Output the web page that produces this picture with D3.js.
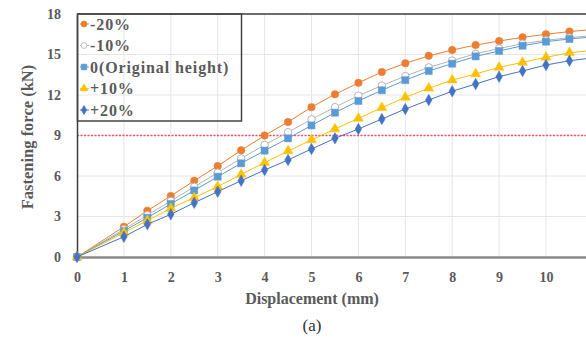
<!DOCTYPE html>
<html>
<head>
<meta charset="utf-8">
<script src="https://cdn.jsdelivr.net/npm/d3@7"></script>
<style>
  body { margin: 0; background: #fff; }
  svg { display: block; font-family: "Liberation Serif", "Times New Roman", serif; }
</style>
</head>
<body>
<svg class="chart" width="586" height="348"></svg>
<script>
// Displacement (mm) at which every series was sampled
var displacement = [0, 1, 1.5, 2, 2.5, 3, 3.5, 4, 4.5, 5, 5.5, 6, 6.5, 7, 7.5, 8, 8.5, 9, 9.5, 10, 10.5, 11];

// Fastening force (kN) for each height change
var minus20 = [0, 2.24, 3.43, 4.52, 5.65, 6.74, 7.9, 9.0, 10.0, 11.1, 12.05, 12.9, 13.7, 14.35, 14.9, 15.33, 15.7, 16.0, 16.27, 16.5, 16.7, 16.85];
var minus10 = [0, 2.05, 3.1, 4.15, 5.2, 6.25, 7.3, 8.3, 9.25, 10.2, 11.1, 11.95, 12.7, 13.4, 14.05, 14.55, 15.05, 15.45, 15.8, 16.05, 16.25, 16.4];
var original = [0, 1.93, 2.91, 3.93, 4.93, 5.95, 6.94, 7.88, 8.79, 9.75, 10.69, 11.56, 12.35, 13.1, 13.78, 14.32, 14.86, 15.26, 15.65, 15.95, 16.15, 16.3];
var plus10 = [0, 1.8, 2.7, 3.6, 4.4, 5.21, 6.12, 6.99, 7.85, 8.67, 9.48, 10.27, 11.06, 11.83, 12.5, 13.1, 13.56, 14.05, 14.42, 14.79, 15.13, 15.3];
var plus20 = [0, 1.5, 2.42, 3.16, 4.02, 4.84, 5.65, 6.44, 7.19, 8.0, 8.79, 9.48, 10.22, 10.96, 11.63, 12.28, 12.81, 13.36, 13.78, 14.22, 14.54, 14.75];

var seriesNames = ["-20%", "-10%", "0(Original height)", "+10%", "+20%"];
var xTicks = [0, 1, 2, 3, 4, 5, 6, 7, 8, 9, 10, 11];
var yTicks = [0, 3, 6, 9, 12, 15, 18];
var limitForce = 9; // red dashed reference line

var series = [
    {name: seriesNames[0], values: minus20, color: "#ed7d31", shape: "circle", fill: "#ed7d31"},
    {name: seriesNames[1], values: minus10, color: "#b4b4b4", shape: "circle", fill: "#ffffff"},
    {name: seriesNames[2], values: original, color: "#5b9bd5", shape: "square", fill: "#5b9bd5"},
    {name: seriesNames[3], values: plus10, color: "#ffc000", shape: "triangle", fill: "#ffc000"},
    {name: seriesNames[4], values: plus20, color: "#4472c4", shape: "diamond", fill: "#4472c4"}
];

var svg = d3.select(".chart");
var plotLeft = 77, plotTop = 14, plotBottom = 257;
var unit = 46.9; // pixels per mm

var x = d3.scaleLinear().domain([0, 12]).range([plotLeft, plotLeft + 12 * unit]);
var y = d3.scaleLinear().domain([0, 18]).range([plotBottom, plotTop]);

var textColor = "#5a5a5a";

// Grid lines
svg.append("g")
    .selectAll("line")
    .data(xTicks.slice(1))
    .enter()
        .append("line")
        .attr("x1", function(d) { return x(d); })
        .attr("x2", function(d) { return x(d); })
        .attr("y1", y(0))
        .attr("y2", y(18))
        .attr("stroke", "#e6e6e6")
        .attr("stroke-width", 1);

svg.append("g")
    .selectAll("line")
    .data(yTicks.slice(1, -1))
    .enter()
        .append("line")
        .attr("x1", x(0))
        .attr("x2", 586)
        .attr("y1", function(d) { return y(d); })
        .attr("y2", function(d) { return y(d); })
        .attr("stroke", "#e6e6e6")
        .attr("stroke-width", 1);

// Top border of plot area
svg.append("line")
    .attr("x1", x(0)).attr("x2", 586)
    .attr("y1", y(18)).attr("y2", y(18))
    .attr("stroke", "#3c3c3c")
    .attr("stroke-width", 1.5);

// Reference line at 9 kN
svg.append("line")
    .attr("x1", x(0)).attr("x2", 586)
    .attr("y1", y(limitForce)).attr("y2", y(limitForce))
    .attr("stroke", "#f0506e")
    .attr("stroke-width", 1.4)
    .attr("stroke-dasharray", "2,1.5");

// Axes
var xAxis = svg.append("g")
    .attr("transform", "translate(0," + y(0) + ")")
    .call(d3.axisBottom(x).tickValues(xTicks).tickSize(0).tickPadding(15));
xAxis.select(".domain").attr("stroke", "#8a8a8a").attr("stroke-width", 2.5);

var yAxis = svg.append("g")
    .attr("transform", "translate(" + x(0) + ",0)")
    .call(d3.axisLeft(y).tickValues(yTicks).tickSize(0).tickPadding(16));
yAxis.select(".domain").attr("stroke", "#3c3c3c").attr("stroke-width", 1.5);

svg.selectAll(".tick text")
    .attr("font-family", "'Liberation Serif', serif")
    .attr("font-size", 14)
    .attr("font-weight", "bold")
    .attr("fill", textColor);

// Axis titles
svg.append("text")
    .attr("transform", "translate(" + 33 + "," + 137 + ") rotate(-90)")
    .attr("text-anchor", "middle")
    .attr("font-size", 16.5)
    .attr("font-weight", "bold")
    .attr("fill", textColor)
    .text("Fastening force (kN)");

svg.append("text")
    .attr("x", 312)
    .attr("y", 304)
    .attr("text-anchor", "middle")
    .attr("font-size", 16)
    .attr("font-weight", "bold")
    .attr("fill", textColor)
    .text("Displacement (mm)");

svg.append("text")
    .attr("x", 312)
    .attr("y", 331)
    .attr("text-anchor", "middle")
    .attr("font-size", 17)
    .attr("fill", "#333")
    .text("(a)");

// Marker drawing
function symbolFor(shape, size) {
    var types = {circle: d3.symbolCircle, square: d3.symbolSquare, triangle: d3.symbolTriangle, diamond: d3.symbolDiamond};
    return d3.symbol().type(types[shape]).size(size)();
}
var markerSize = {circle: 44, square: 50, triangle: 42, diamond: 38};

var line = d3.line()
    .x(function(d) { return x(d[0]); })
    .y(function(d) { return y(d[1]); });

var plot = svg.append("g");

series.forEach(function(s) {
    var pts = displacement.map(function(d, i) { return [d, s.values[i]]; });
    plot.append("path")
        .datum(pts)
        .attr("d", line)
        .attr("fill", "none")
        .attr("stroke", s.color)
        .attr("stroke-width", 1);
    plot.append("g")
        .selectAll("path")
        .data(pts)
        .enter()
            .append("path")
            .attr("transform", function(d) { return "translate(" + x(d[0]) + "," + y(d[1]) + ")"; })
            .attr("d", symbolFor(s.shape, markerSize[s.shape]))
            .attr("fill", s.fill)
            .attr("stroke", s.color)
            .attr("stroke-width", s.fill === "#ffffff" ? 1 : 0.5);
});

// Legend
var legend = svg.append("g");
legend.append("rect")
    .attr("x", 77.5)
    .attr("y", 14)
    .attr("width", 164)
    .attr("height", 107)
    .attr("fill", "none")
    .attr("stroke", "#444")
    .attr("stroke-width", 1.5);

var rows = legend.selectAll(".legend-row")
    .data(series)
    .enter()
        .append("g")
        .attr("class", "legend-row")
        .attr("transform", function(d, i) { return "translate(84," + (24 + i * 21.5) + ")"; });

rows.append("line")
    .attr("x1", -4).attr("x2", 5)
    .attr("stroke", function(d) { return d.color; })
    .attr("stroke-width", 1);
rows.append("path")
    .attr("d", function(d) { return symbolFor(d.shape, markerSize[d.shape] * 0.6); })
    .attr("fill", function(d) { return d.fill; })
    .attr("stroke", function(d) { return d.color; })
    .attr("stroke-width", 0.8);
rows.append("text")
    .attr("x", 6)
    .attr("y", 5.5)
    .attr("font-size", 16)
    .attr("font-weight", "bold")
    .attr("letter-spacing", 0.9)
    .attr("fill", textColor)
    .text(function(d) { return d.name; });
</script>
</body>
</html>
